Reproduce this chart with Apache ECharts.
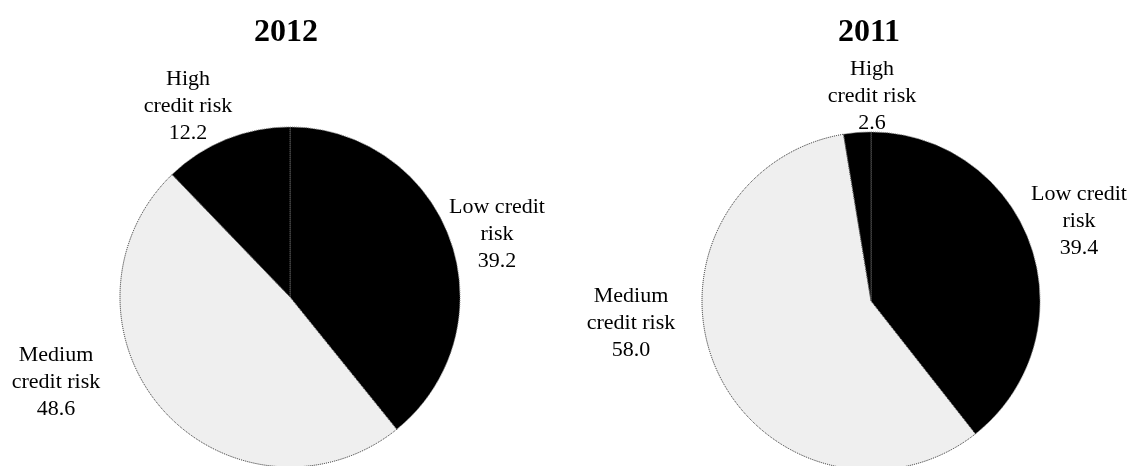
<!DOCTYPE html>
<html>
<head>
<meta charset="utf-8">
<script src="https://cdn.jsdelivr.net/npm/echarts@6/dist/echarts.min.js"></script>
<style>
  html, body { margin: 0; padding: 0; background: #fff; }
  #chart { width: 1132px; height: 466px; }
</style>
</head>
<body>
<div id="chart"></div>
<script>
// ---- data ----
const categories = ['Low credit risk', 'Medium credit risk', 'High credit risk'];
const labelNames = ['Low credit\nrisk', 'Medium\ncredit risk', 'High\ncredit risk'];
const years = ['2012', '2011'];
const values2012 = [39.2, 48.6, 12.2];
const values2011 = [39.4, 58.0, 2.6];

// ---- styling / layout ----
const FONT = '"Liberation Serif", "Times New Roman", serif';
const sliceStyles = [
  { color: '#000000', borderColor: '#777777', borderType: 'dotted', borderWidth: 1 },
  { color: '#efefef', borderColor: '#222222', borderType: 'dotted', borderWidth: 1 },
  { color: '#000000', borderColor: '#777777', borderType: 'dotted', borderWidth: 1 }
];
const pies = [
  { center: [290, 297], radius: 170, titleX: 281,
    labelPos: [[497, 234], [56, 382], [188, 106]], values: values2012 },
  { center: [871, 301], radius: 169, titleX: 864,
    labelPos: [[1079, 221], [631, 323], [872, 96]], values: values2011 }
];

function buildData(values) {
  return categories.map((c, i) => ({
    name: c,
    value: values[i],
    itemStyle: sliceStyles[i]
  }));
}

const chart = echarts.init(document.getElementById('chart'), null, { renderer: 'canvas' });
chart.setOption({
  animation: false,
  backgroundColor: '#ffffff',
  title: pies.map((p, k) => ({
    text: years[k],
    left: p.titleX,
    top: 12,
    textAlign: 'center',
    textStyle: { fontFamily: FONT, fontSize: 32, fontWeight: 'bold', color: '#000' }
  })),
  series: pies.map((p, k) => ({
    type: 'pie',
    center: p.center,
    radius: p.radius,
    startAngle: 90,
    clockwise: true,
    silent: true,
    data: buildData(p.values),
    label: {
      show: true,
      position: 'outside',
      overflow: 'none',
      width: 200,
      formatter: (params) => labelNames[params.dataIndex] + '\n' + params.value.toFixed(1),
      fontFamily: FONT,
      fontSize: 22,
      lineHeight: 27,
      color: '#000',
      align: 'center'
    },
    labelLine: { show: false },
    labelLayout: (params) => ({
      x: p.labelPos[params.dataIndex][0],
      y: p.labelPos[params.dataIndex][1],
      align: 'center',
      verticalAlign: 'middle',
      hideOverlap: false
    })
  }))
});
</script>
</body>
</html>
